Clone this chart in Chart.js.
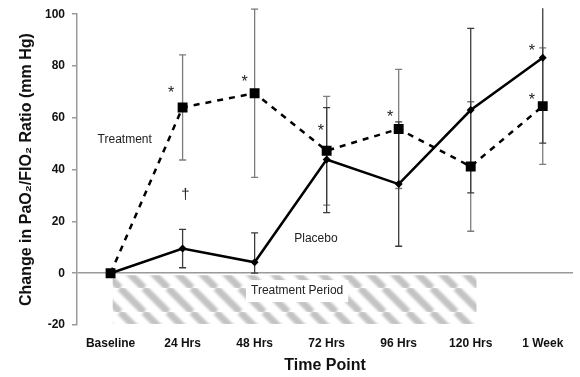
<!DOCTYPE html>
<html>
<head>
<meta charset="utf-8">
<script src="https://cdn.jsdelivr.net/npm/chart.js@4.4.0/dist/chart.umd.min.js"></script>
<style>
  html, body { margin: 0; padding: 0; background: #fff; }
  canvas { display: block; }
</style>
</head>
<body>
<canvas id="c" width="580" height="377"></canvas>
<script>
// chart values
const categories = ['Baseline', '24 Hrs', '48 Hrs', '72 Hrs', '96 Hrs', '120 Hrs', '1 Week'];
const treatmentMean = [0, 64, 69.5, 47.3, 55.7, 41.2, 64.5];
const treatmentErr = [0, 20.3, 32.5, 21, 23, 25, 22.5];
const placeboMean = [0, 9.5, 4.2, 43.9, 34.4, 63, 83.2];
const placeboErrUp = [0, 7.4, 11.4, 20, 24, 31.5, 33];
const placeboErrDown = [0, 7.4, 4.2, 20.5, 24, 32, 33];
const yTicks = [-20, 0, 20, 40, 60, 80, 100];

const FONT = '"Liberation Sans", Arial, Helvetica, sans-serif';

const toPoints = (arr) => arr.map((v, i) => ({ x: i, y: v }));

// text marks, placed in data coordinates
const notes = [
  { text: 'Treatment', x: -0.18, y: 51.5, size: 12, align: 'left' },
  { text: 'Placebo', x: 2.55, y: 13.4, size: 12, align: 'left' },
  { text: '*', x: 0.84, y: 69.5, size: 16, align: 'center' },
  { text: '*', x: 1.86, y: 73.7, size: 16, align: 'center' },
  { text: '*', x: 2.92, y: 54.6, size: 16, align: 'center' },
  { text: '*', x: 3.88, y: 60.0, size: 16, align: 'center' },
  { text: '*', x: 5.85, y: 85.5, size: 16, align: 'center' },
  { text: '*', x: 5.85, y: 66.8, size: 16, align: 'center' },
  { text: '\u2020', x: 1.04, y: 30.2, size: 15, align: 'center' }
];

function hatchPattern(ctx) {
  const p = 24;
  const c = document.createElement('canvas');
  c.width = p; c.height = p;
  const g = c.getContext('2d');
  g.strokeStyle = 'rgba(175,175,175,0.75)';
  g.lineWidth = 7;
  g.filter = 'blur(1.2px)';
  for (const o of [-p, 0, p]) {
    g.beginPath();
    g.moveTo(o, 0);
    g.lineTo(o + p, p);
    g.stroke();
  }
  return ctx.createPattern(c, 'repeat');
}

const backgroundMarks = {
  id: 'backgroundMarks',
  beforeDatasetsDraw(chart) {
    const { ctx, chartArea, scales: { x, y } } = chart;
    ctx.save();
    // treatment period hatch
    const x0 = x.getPixelForValue(0.03), x1 = x.getPixelForValue(5.08);
    const y0 = y.getPixelForValue(-0.8), y1 = y.getPixelForValue(-19.6);
    ctx.fillStyle = hatchPattern(ctx);
    ctx.fillRect(x0, y0, x1 - x0, y1 - y0);
    // white box behind label
    const lx = x.getPixelForValue(1.95);
    const ly = y.getPixelForValue(-6.9);
    ctx.font = '12px ' + FONT;
    const w = ctx.measureText('Treatment Period').width;
    ctx.fillStyle = '#fff';
    ctx.fillRect(lx - 5, ly - 11, w + 10, 22);
    ctx.fillStyle = '#222';
    ctx.textAlign = 'left';
    ctx.textBaseline = 'middle';
    ctx.fillText('Treatment Period', lx, ly);

    // error bars
    ctx.beginPath();
    ctx.rect(chartArea.left, chartArea.top - 6, chartArea.right - chartArea.left, chartArea.bottom - chartArea.top + 6);
    ctx.clip();
    const bars = [
      { mean: treatmentMean, up: treatmentErr, down: treatmentErr, color: '#7c7c7c' },
      { mean: placeboMean, up: placeboErrUp, down: placeboErrDown, color: '#3a3a3a' }
    ];
    bars.forEach(b => {
      ctx.strokeStyle = b.color;
      ctx.lineWidth = 1.3;
      b.mean.forEach((m, i) => {
        if (!b.up[i] && !b.down[i]) return;
        const px = x.getPixelForValue(i);
        const top = y.getPixelForValue(m + b.up[i]);
        const bot = y.getPixelForValue(m - b.down[i]);
        ctx.beginPath();
        ctx.moveTo(px, top); ctx.lineTo(px, bot);
        ctx.moveTo(px - 3.5, top); ctx.lineTo(px + 3.5, top);
        ctx.moveTo(px - 3.5, bot); ctx.lineTo(px + 3.5, bot);
        ctx.stroke();
      });
    });
    ctx.restore();
  },
  afterDatasetsDraw(chart) {
    const { ctx, scales: { x, y } } = chart;
    ctx.save();
    ctx.fillStyle = '#222';
    ctx.textBaseline = 'middle';
    notes.forEach(n => {
      ctx.font = n.size + 'px ' + FONT;
      ctx.textAlign = n.align;
      ctx.fillText(n.text, x.getPixelForValue(n.x), y.getPixelForValue(n.y));
    });
    ctx.restore();
  }
};

new Chart(document.getElementById('c'), {
  type: 'line',
  data: {
    datasets: [
      {
        label: 'Treatment',
        data: toPoints(treatmentMean),
        borderColor: '#000',
        backgroundColor: '#000',
        borderWidth: 2.5,
        borderDash: [6, 6],
        pointStyle: 'rect',
        pointRadius: 7,
        pointBorderWidth: 0,
        tension: 0
      },
      {
        label: 'Placebo',
        data: toPoints(placeboMean),
        borderColor: '#000',
        backgroundColor: '#000',
        borderWidth: 2.5,
        pointStyle: 'rectRot',
        pointRadius: 4,
        pointBorderWidth: 0,
        tension: 0
      }
    ]
  },
  options: {
    responsive: false,
    animation: false,
    layout: { padding: { top: 10, right: 0, left: 0, bottom: 0 } },
    plugins: { legend: { display: false }, tooltip: { enabled: false } },
    scales: {
      x: {
        type: 'linear',
        min: -0.466,
        max: 6.42,
        grid: { display: false, drawTicks: false },
        border: { display: false },
        afterBuildTicks: (s) => { s.ticks = categories.map((c, i) => ({ value: i })); },
        afterFit: (s) => { s.height = 52; },
        ticks: {
          autoSkip: false,
          maxRotation: 0,
          padding: 11,
          color: '#111',
          font: { family: FONT, size: 12, weight: 'bold' },
          callback: (v) => categories[v]
        },
        title: {
          display: true,
          text: 'Time Point',
          color: '#111',
          padding: { top: 0, bottom: 2 },
          font: { family: FONT, size: 16, weight: 'bold' }
        }
      },
      y: {
        min: -20,
        max: 100,
        afterBuildTicks: (s) => { s.ticks = yTicks.map(v => ({ value: v })); },
        afterFit: (s) => { s.width = 77; },
        grid: {
          color: (c) => (c.tick && c.tick.value === 0 ? '#9a9a9a' : 'rgba(0,0,0,0)'),
          lineWidth: 1.5,
          tickColor: '#9a9a9a',
          tickLength: 5
        },
        border: { color: '#9a9a9a', width: 1.5 },
        ticks: {
          padding: 7,
          color: '#111',
          font: { family: FONT, size: 12, weight: 'bold' }
        },
        title: {
          display: true,
          text: 'Change in PaO\u2082/FIO\u2082 Ratio (mm Hg)',
          color: '#111',
          padding: { top: 17, bottom: 0 },
          font: { family: FONT, size: 16, weight: 'bold' }
        }
      }
    }
  },
  plugins: [backgroundMarks]
});
</script>
</body>
</html>
